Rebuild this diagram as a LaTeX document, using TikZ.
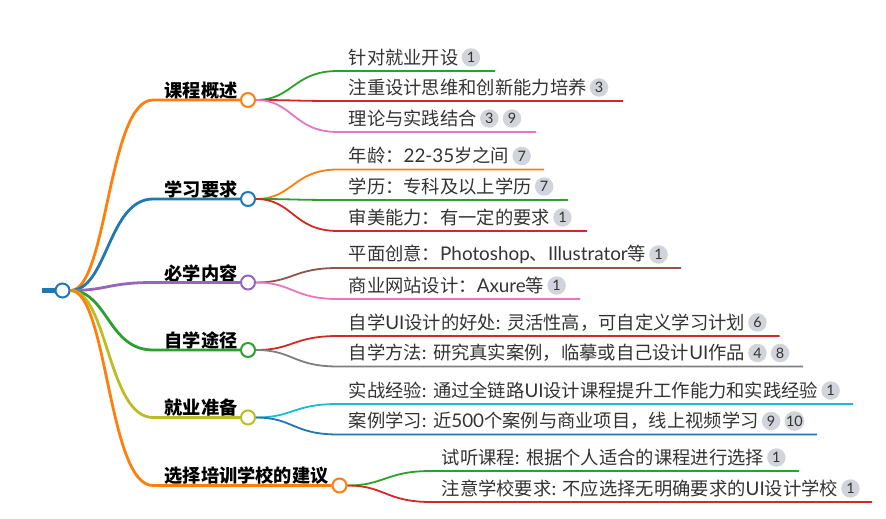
\documentclass[tikz,border=0pt]{standalone}
\usepackage{fontspec}
\usepackage{xcolor}
\setmainfont{Noto Sans CJK SC}
\newfontfamily\latin[Scale=1.03]{Lato}
\newcommand*{\la}[1]{{\latin #1}}
\definecolor{morange}{HTML}{FF7F0E}
\definecolor{mblue}{HTML}{1F77B4}
\definecolor{mgreen}{HTML}{2CA02C}
\definecolor{mred}{HTML}{D62728}
\definecolor{mpurple}{HTML}{9467BD}
\definecolor{mbrown}{HTML}{8C564B}
\definecolor{mpink}{HTML}{E377C2}
\definecolor{mgrey}{HTML}{7F7F7F}
\definecolor{molive}{HTML}{BCBD22}
\definecolor{mcyan}{HTML}{17BECF}
\definecolor{mbadge}{HTML}{D1D5DB}
\definecolor{mtext}{HTML}{333333}
\begin{document}
\begin{tikzpicture}[x=1pt, y=-1pt,
    dot/.style={circle, draw, fill=white, line width=2pt, minimum size=14pt, inner sep=0pt},
    title/.style={anchor=west, inner sep=0pt, font=\fontsize{18.2}{20}\selectfont\bfseries, text=black},
    leaf/.style={anchor=west, inner sep=0pt, font=\fontsize{18.3}{20}\selectfont, text=mtext},
    badge/.style={circle, fill=mbadge, minimum size=18.5pt, inner sep=0pt, anchor=west, font=\fontsize{14}{16}\selectfont\latin, text=mtext}]
        \useasboundingbox (0,0) rectangle (886,519);

        \node[dot, draw=mblue] (root) at (62.5,290.5) {};
        \coordinate (stub) at (42,290.5);
        \draw [mblue, line width=4.5pt] (stub) -- (root);

        \foreach \i/\x/\y/\col/\name in {
            0/248/100/morange/课程概述,
            1/248/199/mblue/学习要求,
            2/248/282.5/mpurple/必学内容,
            3/248/350/mgreen/自学途径,
            4/248/417.5/molive/就业准备,
            5/339.5/485.5/morange/选择培训学校的建议}
        {
            \node[dot, draw=\col] (m\i) at (\x,\y) {};
            \coordinate (a\i) at (153,\y);
            \node[title] (t\i) at (164.5,\y-9.5) {\name};
            \draw [\col, line width=2.8pt]
              (root) .. controls +(45,0) and +(-45,0) .. (a\i) -- (m\i);
        }

        \foreach \i/\j/\xa/\y/\xb/\col/\name/\nums in {
            0/0/338/71/495/mgreen/针对就业开设/{1},
            0/1/338/101/623/mred/注重设计思维和创新能力培养/{3},
            0/2/338/132/536/mpink/理论与实践结合/{3,9},
            1/0/338/169.5/544/morange/年龄：\la{22-35}岁之间/{7},
            1/1/338/200/568/mgreen/学历：专科及以上学历/{7},
            1/2/338/231/587/mred/审美能力：有一定的要求/{1},
            2/0/338/268/681/mbrown/平面创意：\la{Photoshop}、\la{Illustrator}等/{1},
            2/1/338/299/580/mpink/商业网站设计：\la{Axure}等/{1},
            3/0/338/336/779.5/mred/自学\la{UI}设计的好处\la{: }灵活性高，可自定义学习计划/{6},
            3/1/338/366.5/803/mgrey/自学方法\la{: }研究真实案例，临摹或自己设计\la{UI}作品/{4,8},
            4/0/338/404/853/mcyan/实战经验\la{: }通过全链路\la{UI}设计课程提升工作能力和实践经验/{1},
            4/1/338/434.5/817/mblue/案例学习\la{: }近\la{500}个案例与商业项目，线上视频学习/{9,10},
            5/0/431/471/799/mgreen/试听课程\la{: }根据个人适合的课程进行选择/{1},
            5/1/431/502/872/mred/注意学校要求\la{: }不应选择无明确要求的\la{UI}设计学校/{1}}
        {
            \coordinate (p\i\j) at (\xa,\y);
            \coordinate (q\i\j) at (\xb,\y);
            \node[leaf] (l\i\j) at (\xa+10.5,\y-13.5) {\name};
            \foreach \n [count=\k] in \nums
            {
              \node[badge] (b\i\j\k) at ([xshift={2.8+(\k-1)*22.7}]l\i\j.east) {\n};
            }
            \draw [\col, line width=1.8pt]
              (m\i) .. controls +(45,0) and +(-45,0) .. (p\i\j) -- (q\i\j);
        }
      \end{tikzpicture}
\end{document}
